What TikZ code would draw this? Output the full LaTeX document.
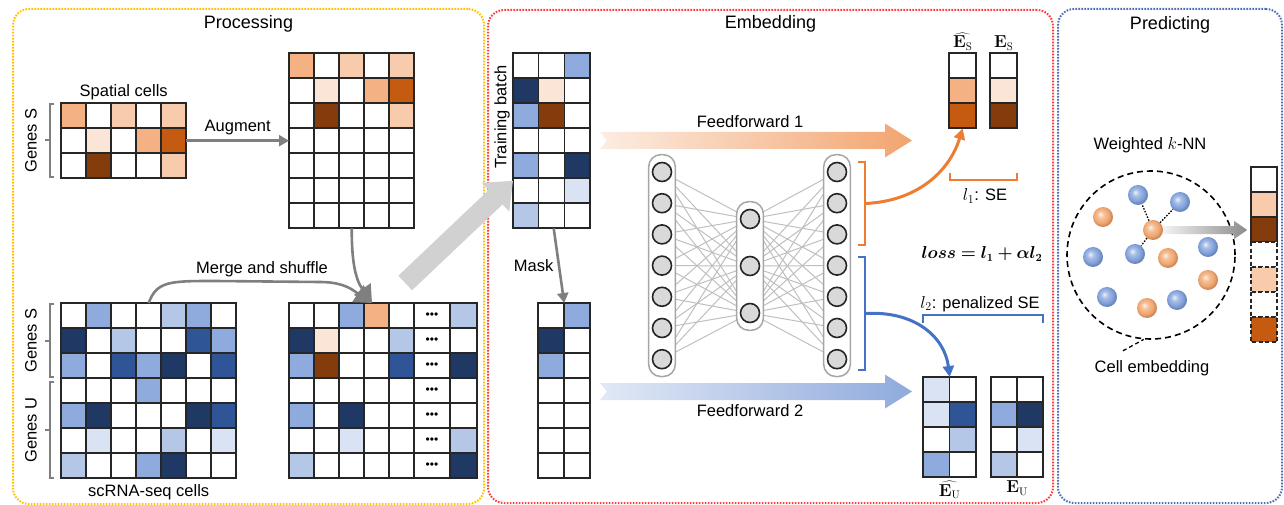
\documentclass[tikz,border=0pt]{standalone}
\usepackage[no-math]{fontspec}
\setmainfont{Liberation Sans}
\usepackage{bm}
\usepackage{tikz}
\usetikzlibrary{arrows.meta}
\usetikzlibrary{fit}
\usetikzlibrary{backgrounds}
\definecolor{oVlt}{HTML}{FBE5D6}
\definecolor{oLt}{HTML}{F8CBAD}
\definecolor{oMd}{HTML}{F4B183}
\definecolor{oDk}{HTML}{C55A11}
\definecolor{oBr}{HTML}{843C0C}
\definecolor{bVlt}{HTML}{DAE3F3}
\definecolor{bLt}{HTML}{B4C7E7}
\definecolor{bMd}{HTML}{8FAADC}
\definecolor{bDk}{HTML}{2F5597}
\definecolor{bNv}{HTML}{203864}
\definecolor{accOr}{HTML}{ED7D31}
\definecolor{accBl}{HTML}{4472C4}
\definecolor{flowgray}{HTML}{7F7F7F}
\definecolor{panY}{HTML}{FFC000}
\definecolor{panR}{HTML}{FF3B3B}
\definecolor{panB}{HTML}{4A6FB5}
\definecolor{ballB}{HTML}{7F9FDA}
\definecolor{ballO}{HTML}{F0A46C}
% soft spheres for the cell embeddings
\pgfdeclareradialshading{blueball}{\pgfpoint{-7bp}{7bp}}{color(0bp)=(ballB!15!white); color(9bp)=(ballB!70!white); color(20bp)=(ballB); color(25bp)=(ballB!85!black); color(50bp)=(ballB!85!black)}
\pgfdeclareradialshading{orangeball}{\pgfpoint{-7bp}{7bp}}{color(0bp)=(ballO!15!white); color(9bp)=(ballO!70!white); color(20bp)=(ballO); color(25bp)=(ballO!85!black); color(50bp)=(ballO!85!black)}
% one row of cells: [style] node, x offset, row, cell width, fills
\newcommand{\matrow}[6][cellbox]{%
  \foreach \cl [count=\i from 0] in {#6}
    \draw[#1, fill=\cl] ([shift={(#3+\i*#5, #4*25)}]#2.north west) rectangle ++(#5,25);}
% fat arrow outline: start, length, half body, half head, head length, notch
\newcommand{\fatarrow}[6]{%
  (#1) ++(0,-#3) -- ++(#2-#5,0) -- ++(0,#3-#4) -- ++(#5,#4) -- ++(-#5,#4)
  -- ++(0,#3-#4) -- ++(-#2+#5,0) -- ++(#6,-#3) -- cycle}
% bracket with a tick on the left plus a rotated label
\newcommand{\genebrace}[4]{%
  \draw[gbrace] (54,#1) -- (50,#1) -- (50,#2) -- (54,#2) (50,{(#1+#2)/2}) -- (45,{(#1+#2)/2});
  \node[rotate=90] (#4) at (31,{(#1+#2)/2}) {#3};}

\begin{document}
\begin{tikzpicture}[x=1pt, y=-1pt, font=\fontsize{16.5}{19}\selectfont,
    cellbox/.style={draw=black!85, line width=1.6pt},
    dashbox/.style={draw=black!85, line width=1.6pt, dash pattern=on 4pt off 2.5pt},
    matbox/.style={inner sep=0pt, anchor=north west},
    panel/.style={line width=2pt, dash pattern=on 1.6pt off 1.4pt, rounded corners=16pt, inner sep=0pt, anchor=north west},
    title/.style={font=\fontsize{18}{21}\selectfont},
    flow/.style={draw=flowgray, line width=2.6pt, -{Triangle[length=10pt,width=11pt]}},
    bigflow/.style={draw=flowgray, line width=2.6pt, -{Triangle[length=17pt,width=20pt]}},
    gbrace/.style={draw=flowgray, line width=2pt},
    neuron/.style={circle, draw=black!85, fill=black!15, line width=1.6pt, minimum size=19pt, inner sep=0pt},
    pill/.style={draw=black!35, fill=white, line width=1.5pt, rounded corners=12pt, inner xsep=3pt, inner ysep=7pt},
    synapse/.style={draw=black!25, line width=1pt},
    obrace/.style={draw=accOr, line width=2pt},
    bbrace/.style={draw=accBl, line width=2pt},
    oflow/.style={draw=accOr, line width=3pt, -{Triangle[length=11pt,width=11pt]}},
    bflow/.style={draw=accBl, line width=3pt, -{Triangle[length=11pt,width=11pt]}},
    elabel/.style={font=\fontsize{16}{19}\selectfont, inner sep=0.5pt},
    bball/.style={circle, minimum size=20pt, inner sep=0pt, shading=blueball},
    oball/.style={circle, minimum size=20pt, inner sep=0pt, shading=orangeball},
    link/.style={draw=black, line width=1.3pt, dash pattern=on 1.5pt off 1.5pt},
  ]
\useasboundingbox (0,0) rectangle (1284,505);

% panels
\node[panel, draw=panY, minimum width=471pt, minimum height=495pt] (proc) at (12,8) {};
\node[panel, draw=panR, minimum width=565pt, minimum height=493pt] (embd) at (487,9) {};
\node[panel, draw=panB, minimum width=224pt, minimum height=494pt] (pred) at (1057,8) {};
\node[title] (tproc) at ([yshift=-16pt]proc.north) {Processing};
\node[title] (tembd) at ([yshift=-15pt]embd.north) {Embedding};
\node[title] (tpred) at ([yshift=-17pt]pred.north) {Predicting};

%% processing
\node[matbox, minimum width=125pt, minimum height=75pt] (spatial) at (61,103) {};
\matrow{spatial}{0}{0}{25}{oMd,white,oLt,white,oLt}
\matrow{spatial}{0}{1}{25}{white,oVlt,white,oMd,oDk}
\matrow{spatial}{0}{2}{25}{white,oBr,white,white,oLt}
\node[above=0pt] (spatlbl) at (spatial.north) {Spatial cells};
\genebrace{104}{177}{Genes S}{gs1}

\node[matbox, minimum width=125pt, minimum height=175pt] (aug) at (289,53) {};
\matrow{aug}{0}{0}{25}{oMd,white,oLt,white,oLt}
\matrow{aug}{0}{1}{25}{white,oVlt,white,oMd,oDk}
\matrow{aug}{0}{2}{25}{white,oBr,white,white,oLt}
\foreach \r in {3,...,6} {\matrow{aug}{0}{\r}{25}{white,white,white,white,white}}
\draw[flow] (spatial.east) -- (spatial.east -| aug.west) node[midway, above=1pt] (auglbl) {Augment};

\node[matbox, minimum width=175pt, minimum height=175pt] (scrna) at (61,303) {};
\matrow{scrna}{0}{0}{25}{white,bMd,white,white,bLt,bMd,white}
\matrow{scrna}{0}{1}{25}{bNv,white,bLt,white,white,bDk,bMd}
\matrow{scrna}{0}{2}{25}{bMd,white,bDk,bMd,bNv,white,bDk}
\matrow{scrna}{0}{3}{25}{white,white,white,bMd,white,white,white}
\matrow{scrna}{0}{4}{25}{bMd,bNv,white,white,white,bNv,bDk}
\matrow{scrna}{0}{5}{25}{white,bVlt,white,white,bLt,white,bVlt}
\matrow{scrna}{0}{6}{25}{bLt,white,white,bMd,bNv,white,white}
\node[below=3pt] (scrnalbl) at (scrna.south) {scRNA-seq cells};
\genebrace{304}{377}{Genes S}{gs2}
\genebrace{382}{478}{Genes U}{gu}

\node[matbox, minimum width=188pt, minimum height=175pt] (merged) at (289,303) {};
\matrow{merged}{0}{0}{25}{white,white,bMd,oMd,white}
\matrow{merged}{0}{1}{25}{bNv,oVlt,white,white,bLt}
\matrow{merged}{0}{2}{25}{bMd,oBr,white,white,bDk}
\matrow{merged}{0}{3}{25}{white,white,white,white,white}
\matrow{merged}{0}{4}{25}{bMd,white,bNv,white,white}
\matrow{merged}{0}{5}{25}{white,white,bVlt,white,white}
\matrow{merged}{0}{6}{25}{bLt,white,white,white,white}
\foreach \r in {0,...,6} {
  \matrow{merged}{125}{\r}{36}{white}
  \node[font=\fontsize{12}{12}\selectfont] (dots\r) at ([shift={(143,\r*25+12.5)}]merged.north west) {•••};
}
\foreach \cv [count=\r from 0] in {bLt,white,bNv,white,white,bLt,bNv} {\matrow{merged}{161}{\r}{27}{\cv}}

\coordinate (mtip) at ([xshift=83pt]merged.north west);
\draw[bigflow] (aug.south) to[out=-90, in=125] (mtip);
\draw[bigflow] (scrna.north) .. controls +(8,-22) and +(-45,0) .. (215,281) -- (320,282) .. controls +(25,0) and +(-18,-12) .. (mtip);
\node (mergelbl) at (262,269) {Merge and shuffle};

%% embedding
\node[matbox, minimum width=77pt, minimum height=175pt] (batch) at (513,53) {};
\matrow{batch}{0}{0}{25.67}{white,white,bMd}
\matrow{batch}{0}{1}{25.67}{bNv,oVlt,white}
\matrow{batch}{0}{2}{25.67}{bMd,oBr,white}
\matrow{batch}{0}{3}{25.67}{white,white,white}
\matrow{batch}{0}{4}{25.67}{bMd,white,bNv}
\matrow{batch}{0}{5}{25.67}{white,white,bVlt}
\matrow{batch}{0}{6}{25.67}{bLt,white,white}
\node[rotate=90] (batchlbl) at (502,117) {Training batch};
\draw[line width=20pt, draw=black!18, -{Triangle[length=24pt,width=38pt]}]
  ([shift={(22,-20)}]merged.north) -- ([yshift=-40pt]batch.west);

\node[matbox, minimum width=52pt, minimum height=175pt] (masked) at (538,303) {};
\matrow{masked}{0}{0}{26}{white,bMd}
\matrow{masked}{0}{1}{26}{bNv,white}
\matrow{masked}{0}{2}{26}{bMd,white}
\foreach \r in {3,...,6} {\matrow{masked}{0}{\r}{26}{white,white}}
\draw[flow] ([xshift=2pt]batch.south) -- (masked.north) node[midway, left=1pt] (masklbl) {Mask};

% feedforward arrows
\coordinate (ffa) at (600,140.5);
\coordinate (ffb) at (600,391.5);
\shade[left color=oVlt!70!white, right color=accOr!70!white] \fatarrow{ffa}{312}{8.5}{17}{27}{7};
\shade[left color=bVlt!80!white, right color=bMd] \fatarrow{ffb}{312}{8.5}{17}{27}{7};
\node (ffalbl) at (750,122) {Feedforward 1};
\node (ffblbl) at (750,411) {Feedforward 2};

% autoencoder
\foreach \i in {1,...,7} {
  \node[neuron] (in\i) at (662,140.8+31.2*\i) {};
  \node[neuron] (out\i) at (837,140.8+31.2*\i) {};
}
\foreach \i in {1,2,3} \node[neuron] (hid\i) at (750,172+47*\i) {};
\begin{scope}[on background layer]
  \foreach \a in {1,...,7} \foreach \b in {1,2,3} {
    \draw[synapse] (in\a) -- (hid\b);
    \draw[synapse] (hid\b) -- (out\a);
  }
  \node[pill, fit=(in1)(in7)] (inlay) {};
  \node[pill, fit=(hid1)(hid3)] (hidlay) {};
  \node[pill, fit=(out1)(out7)] (outlay) {};
\end{scope}
\draw[obrace] (858,162) -- (865,162) -- (865,245) -- (858,245);
\draw[bbrace] (858,257) -- (865,257) -- (865,370) -- (858,370);
\coordinate (stick) at (865,203.5);
\coordinate (utick) at (865,313.5);

% reconstructed and true embeddings
\node[matbox, minimum width=27pt, minimum height=75pt] (eshat) at (949,53) {};
\matrow{eshat}{0}{0}{27}{white}
\matrow{eshat}{0}{1}{27}{oMd}
\matrow{eshat}{0}{2}{27}{oDk}
\node[matbox, minimum width=27pt, minimum height=75pt] (es) at (990,53) {};
\matrow{es}{0}{0}{27}{white}
\matrow{es}{0}{1}{27}{oVlt}
\matrow{es}{0}{2}{27}{oBr}
\node[elabel, above=2pt] (eshatlbl) at (eshat.north) {$\widehat{\mathbf{E}_{\mathrm{S}}}$};
\node[elabel, above=2pt] (eslbl) at (es.north) {$\mathbf{E}_{\mathrm{S}}$};
\draw[obrace] (950,173) -- (950,180) -- (1017,180) -- (1017,173);
\node (lonelbl) at (985,196) {$l_1$: SE};
\draw[oflow] (stick) .. controls +(50,-2) and +(-14,45) .. (eshat.south);

\node[font=\fontsize{16}{19}\selectfont] (losslbl) at (982,254) {$\bm{loss = l_1 + \alpha l_2}$};

\node[matbox, minimum width=53pt, minimum height=100pt] (euhat) at (923,377) {};
\matrow{euhat}{0}{0}{26.5}{bVlt,white}
\matrow{euhat}{0}{1}{26.5}{bVlt,bDk}
\matrow{euhat}{0}{2}{26.5}{white,bLt}
\matrow{euhat}{0}{3}{26.5}{bMd,white}
\node[matbox, minimum width=52pt, minimum height=100pt] (eu) at (991,377) {};
\matrow{eu}{0}{0}{26}{white,white}
\matrow{eu}{0}{1}{26}{bMd,bNv}
\matrow{eu}{0}{2}{26}{white,bVlt}
\matrow{eu}{0}{3}{26}{bLt,white}
\node[elabel, below=3pt] (euhatlbl) at (euhat.south) {$\widehat{\mathbf{E}_{\mathrm{U}}}$};
\node[elabel, below=3pt] (eulbl) at (eu.south) {$\mathbf{E}_{\mathrm{U}}$};
\draw[bbrace] (923,323) -- (923,315) -- (1043,315) -- (1043,323);
\node (ltwolbl) at (980,304) {$l_2$: penalized SE};
\draw[bflow] (utick) .. controls +(50,-3) and +(-5,-40) .. (euhat.north);

%% predicting
\node (knnlbl) at (1150,145) {Weighted $k$-NN};
\node[draw=black, circle, line width=1.6pt, dash pattern=on 6pt off 4pt, minimum size=168pt] (nbhd) at (1151,255) {};
\node[bball] (nb1) at (1138,195) {};
\node[bball] (nb2) at (1180,202) {};
\node[oball] (nb3) at (1103,217) {};
\node[bball] (nb4) at (1208,247) {};
\node[bball] (nb5) at (1093,257) {};
\node[bball] (nb6) at (1135,254) {};
\node[oball] (nb7) at (1168,258) {};
\node[oball] (nb8) at (1208,280) {};
\node[bball] (nb9) at (1107,297) {};
\node[oball] (nb10) at (1147,308) {};
\node[bball] (nb11) at (1177,300) {};
\node[oball] (query) at (1153,230) {};
\draw[link] (query) -- (nb1);
\draw[link] (query) -- (nb2);
\draw[link] (query) -- (nb6);

\node[matbox, minimum width=26pt, minimum height=175pt] (outcol) at (1251,167) {};
\matrow{outcol}{0}{0}{26}{white}
\matrow{outcol}{0}{1}{26}{oLt}
\matrow{outcol}{0}{2}{26}{oBr}
\matrow[dashbox]{outcol}{0}{3}{26}{white}
\matrow[dashbox]{outcol}{0}{4}{26}{oLt}
\matrow[dashbox]{outcol}{0}{5}{26}{white}
\matrow[dashbox]{outcol}{0}{6}{26}{oDk}
\shade[left color=black!5, right color=black!45] \fatarrow{query.east}{84}{4}{9}{13}{0};

\node (celllbl) at (1152,368) {Cell embedding};
\draw[link, dash pattern=on 4pt off 3pt] ([shift={(-29,-6)}]celllbl.north) -- (nbhd.265);
\end{tikzpicture}
\end{document}
